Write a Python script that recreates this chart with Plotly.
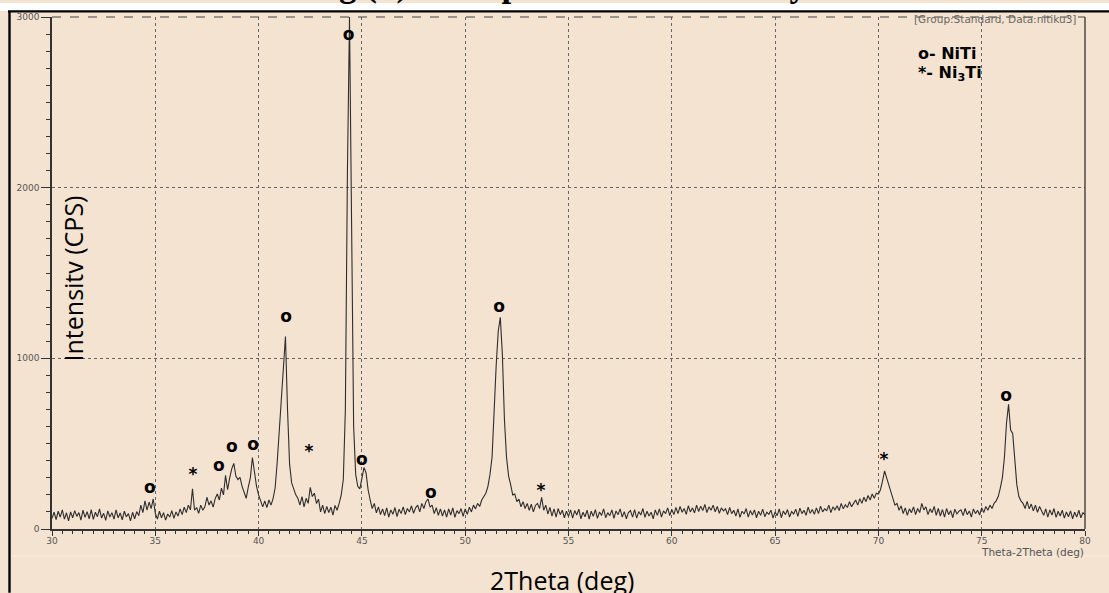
import numpy as np
import plotly.graph_objects as go

# ---- diffraction scan: 2theta from 30 to 80 deg, 0.1 deg step (counts per second)
two_theta_start = 30.0
two_theta_step = 0.1
intensity_cps = [
    62, 98, 55, 104, 70, 112, 58, 95, 48, 100,
    66, 108, 74, 96, 52, 110, 68, 102, 60, 114,
    56, 98, 72, 118, 64, 92, 50, 106, 70, 96,
    58, 112, 66, 94, 54, 104, 72, 90, 48, 98,
    60, 102, 78, 140, 96, 165, 110, 158, 120, 176,
    92, 58, 104, 66, 96, 52, 88, 70, 108, 62,
    100, 76, 118, 84, 128, 96, 140, 112, 236, 110,
    126, 92, 140, 110, 130, 186, 140, 165, 128, 178,
    205, 170, 240, 200, 314, 230, 300, 352, 384, 310,
    290, 302, 250, 215, 180, 245, 300, 419, 330, 250,
    200, 170, 130, 165, 125, 170, 140, 178, 240, 390,
    560, 760, 960, 1128, 700, 380, 270, 230, 200, 180,
    140, 190, 130, 180, 150, 244, 190, 210, 150, 175,
    100, 140, 90, 132, 96, 128, 82, 138, 110, 150,
    200, 290, 700, 2100, 3000, 1800, 600, 320, 250, 235,
    290, 360, 330, 230, 170, 120, 150, 95, 130, 85,
    118, 78, 124, 70, 112, 86, 126, 72, 116, 90,
    130, 84, 120, 100, 136, 92, 124, 140, 100, 150,
    120, 160, 176, 128, 140, 90, 125, 80, 118, 76,
    112, 70, 118, 82, 124, 68, 108, 90, 120, 74,
    118, 86, 128, 100, 140, 118, 150, 132, 170, 190,
    210, 250, 320, 420, 700, 960, 1160, 1240, 1020, 640,
    420, 310, 260, 200, 205, 160, 175, 130, 160, 120,
    150, 110, 145, 100, 138, 150, 120, 185, 110, 140,
    88, 126, 76, 118, 70, 120, 84, 110, 66, 104,
    74, 112, 64, 108, 82, 116, 60, 98, 72, 110,
    58, 104, 74, 114, 62, 100, 80, 118, 66, 96,
    78, 112, 62, 106, 84, 118, 70, 102, 60, 96,
    108, 70, 114, 64, 102, 82, 120, 68, 104, 76,
    98, 60, 112, 80, 118, 70, 106, 90, 124, 78,
    114, 84, 126, 90, 132, 98, 120, 86, 136, 100,
    124, 94, 140, 102, 134, 108, 144, 96, 130, 110,
    140, 100, 132, 92, 124, 106, 118, 84, 126, 90,
    110, 76, 118, 68, 104, 88, 120, 70, 108, 82,
    112, 66, 104, 80, 116, 72, 98, 86, 110, 64,
    100, 78, 118, 66, 106, 84, 114, 70, 102, 88,
    116, 74, 122, 90, 110, 80, 128, 92, 114, 86,
    124, 90, 134, 100, 118, 108, 140, 96, 130, 112,
    136, 108, 150, 118, 142, 126, 160, 130, 150, 170,
    140, 178, 150, 186, 160, 196, 170, 205, 180, 210,
    205, 230, 280, 340, 300, 260, 210, 170, 140, 150,
    110, 136, 90, 124, 80, 118, 96, 130, 84, 120,
    96, 150, 112, 130, 84, 118, 96, 132, 80, 120,
    76, 114, 70, 120, 84, 108, 66, 116, 88, 104,
    112, 78, 120, 84, 106, 70, 118, 90, 110, 82,
    124, 96, 132, 110, 140, 120, 150, 165, 190, 240,
    300, 420, 620, 730, 580, 560, 420, 260, 190, 165,
    150, 120, 162, 118, 146, 106, 140, 98, 132, 110,
    80, 118, 70, 112, 82, 120, 68, 104, 76, 110,
    64, 100, 72, 106, 60, 98, 70, 110, 66, 96,
    84,
]
two_theta = np.round(two_theta_start + two_theta_step * np.arange(len(intensity_cps)), 2)

# ---- phase labels above the reflections
label_two_theta = [34.74, 36.82, 38.08, 38.71, 39.73, 41.33, 42.44, 44.36, 45.0, 48.34, 51.64, 53.67, 70.27, 76.18]
label_height = [233, 314, 367, 478, 489, 1235, 448, 2889, 402, 204, 1299, 221, 402, 775]
label_symbol = ["o", "*", "o", "o", "o", "o", "*", "o", "o", "o", "o", "*", "*", "o"]

legend_lines = ["o- NiTi", "*- Ni<sub>3</sub>Ti"]
x_ticks = [30, 35, 40, 45, 50, 55, 60, 65, 70, 75, 80]
y_ticks = [0, 1000, 2000, 3000]

BG = "#F4E3D0"
INK = "#333333"
GRAY = "#666666"

# pixel -> paper helpers for the frame decorations
L, R, T, B = 52, 1085, 14, 529
def fx(px):
    return (px - L) / (R - L)
def fy(py):
    return (B - py) / (B - T)

fig = go.Figure()
fig.add_trace(go.Scatter(
    x=two_theta, y=intensity_cps, mode="lines",
    line=dict(color="#2e2e2e", width=1.1), hoverinfo="skip",
))
fig.add_trace(go.Scatter(
    x=label_two_theta, y=label_height, mode="text", text=label_symbol,
    textposition="middle center",
    textfont=dict(family="DejaVu Sans", size=17, color="black", weight="bold"),
    hoverinfo="skip",
))

fig.update_layout(
    width=1109, height=593,
    margin=dict(l=L, r=1109 - R, t=T, b=593 - B),
    paper_bgcolor=BG, plot_bgcolor=BG, showlegend=False,
    xaxis=dict(
        range=[30, 80], tickvals=x_ticks, showline=True, linecolor=INK, linewidth=1.5,
        ticks="outside", ticklen=5, tickwidth=1, tickcolor=INK, ticklabelstandoff=-3,
        tickfont=dict(family="DejaVu Sans", size=9, color="#555555"),
        showgrid=True, gridcolor=GRAY, griddash="dot", gridwidth=1, zeroline=False,
        minor=dict(dtick=0.5, tick0=30, ticks="outside", ticklen=3, tickcolor=INK, showgrid=False),
    ),
    yaxis=dict(
        range=[0, 3000], tickvals=y_ticks, showline=True, linecolor=INK, linewidth=1.5,
        ticks="outside", ticklen=9, tickwidth=1, tickcolor=INK,
        tickfont=dict(family="DejaVu Sans", size=9, color="#555555"),
        showgrid=True, gridcolor=GRAY, griddash="dot", gridwidth=1, zeroline=False,
        minor=dict(dtick=100, tick0=0, ticks="outside", ticklen=4, tickcolor=INK, showgrid=False),
    ),
)

shapes = [
    # white strip and black frame of the figure box
    dict(type="rect", xref="paper", yref="paper", x0=fx(0), x1=fx(1109), y0=fy(8), y1=fy(0),
         fillcolor="white", line=dict(width=0), layer="above"),
    dict(type="line", xref="paper", yref="paper", x0=fx(8), x1=fx(1109), y0=fy(8.3), y1=fy(8.3),
         line=dict(color="black", width=2.2), layer="above"),
    dict(type="line", xref="paper", yref="paper", x0=fx(9.5), x1=fx(9.5), y0=fy(8), y1=fy(593),
         line=dict(color="black", width=2.4), layer="above"),
    # plot frame: dashed top, solid right
    dict(type="line", xref="paper", yref="paper", x0=0, x1=1, y0=1, y1=1,
         line=dict(color="#444444", width=1, dash="dash"), layer="above"),
    dict(type="line", xref="paper", yref="paper", x0=1, x1=1, y0=0, y1=1,
         line=dict(color=INK, width=1.3), layer="above"),
    # faint band edge below the chart
    dict(type="line", xref="paper", yref="paper", x0=fx(11), x1=fx(1109), y0=fy(556), y1=fy(556),
         line=dict(color="#F8ECDF", width=1.2), layer="above"),
]
fig.update_layout(shapes=shapes)

annotations = [
    dict(text="Fig (b) XRD pattern of NiTi alloy", x=fx(558), y=fy(3), xref="paper", yref="paper",
         xanchor="center", yanchor="bottom", showarrow=False,
         font=dict(family="Liberation Serif", size=35, color="black", weight="bold")),
    dict(text="[Group:Standard, Data:nitiku3]", x=fx(1078), y=fy(16), xref="paper", yref="paper",
         xanchor="right", yanchor="middle", showarrow=False,
         font=dict(family="DejaVu Sans", size=10.5, color=GRAY)),
    dict(text=legend_lines[0], x=fx(916), y=fy(51), xref="paper", yref="paper",
         xanchor="left", yanchor="middle", showarrow=False,
         font=dict(family="DejaVu Sans", size=16, color="black", weight="bold")),
    dict(text=legend_lines[1], x=fx(916), y=fy(71), xref="paper", yref="paper",
         xanchor="left", yanchor="middle", showarrow=False,
         font=dict(family="DejaVu Sans", size=16, color="black", weight="bold")),
    dict(text="Theta-2Theta (deg)", x=fx(1086), y=fy(552), xref="paper", yref="paper",
         xanchor="right", yanchor="middle", showarrow=False,
         font=dict(family="DejaVu Sans", size=10.5, color="#555555")),
    dict(text="Intensitv (CPS)", x=fx(73), y=fy(277), xref="paper", yref="paper",
         xanchor="center", yanchor="middle", textangle=-90, showarrow=False,
         font=dict(family="Open Sans", size=25, color="black")),
    dict(text="2Theta (deg)", x=fx(562), y=fy(580), xref="paper", yref="paper",
         xanchor="center", yanchor="middle", showarrow=False,
         font=dict(family="Open Sans", size=25, color="black")),
]
fig.update_layout(annotations=annotations)

fig.write_html("out.html")
